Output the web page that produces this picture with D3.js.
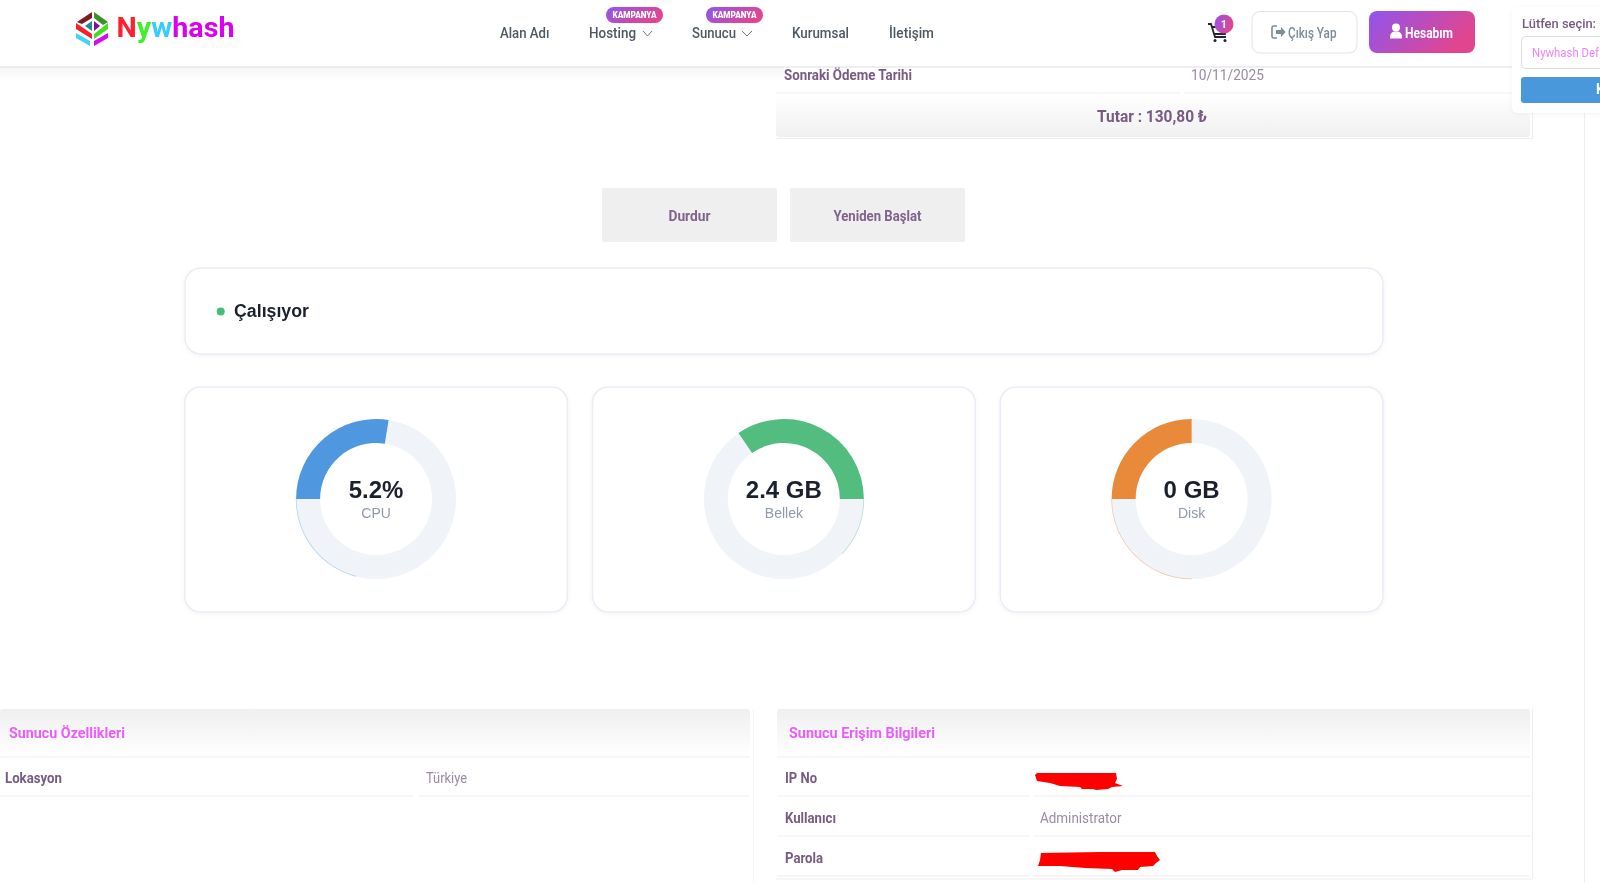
<!DOCTYPE html>
<html lang="tr">
<head>
<meta charset="utf-8">
<title>Nywhash</title>
<script src="https://cdnjs.cloudflare.com/ajax/libs/d3/7.9.0/d3.min.js"></script>
<style>
  html, body { margin: 0; padding: 0; background: #fff; overflow: hidden; }
  svg { display: block; filter: blur(0.35px); }
  text { font-family: Roboto, sans-serif; }
  .plain text, text.plain { font-family: "Liberation Sans", Arial, sans-serif; }
</style>
</head>
<body>
<div class="chartbox"><svg width="1600" height="883"></svg></div>
<script>
// gauge data, share and start are percent of the ring, clockwise from 12 o'clock
let gaugeNames = ["CPU", "Bellek", "Disk"];
let gaugeValues = ["5.2%", "2.4 GB", "0 GB"];
let gaugeStart = [75, 90.4, 75];
let gaugeShare = [27.5, 34.6, 25];
// thin coloured trace left on the grey part of the ring
let gaugeTraceFrom = [54, 25, 50];
let gaugeTraceTo = [75, 37, 75];

// page texts
let navLabels = ["Alan Adı", "Hosting", "Sunucu", "Kurumsal", "İletişim"];
let navX = [500, 589, 692, 792, 889];
let navW = [49.5, 47, 44, 57, 45];
let actionLabels = ["Durdur", "Yeniden Başlat"];
let actionW = [42, 88];
let accessRows = ["IP No", "Kullanıcı", "Parola"];
let accessW = [32, 51, 38];

let svg = d3.select("svg");
let defs = svg.append("defs");

const purple = "#775b83", muted = "#9a8aa3", pink = "#ea5cfc";

function gradient(id, stops, x2, y2) {
  let g = defs.append("linearGradient").attr("id", id)
    .attr("x1", 0).attr("y1", 0).attr("x2", x2).attr("y2", y2);
  stops.forEach((c, i) => g.append("stop").attr("offset", i / (stops.length - 1)).attr("stop-color", c));
}
gradient("brand", ["#8f55ee", "#e2458f"], 1, 0.4);
gradient("bandUp", ["#ffffff", "#f0f0f0"], 0, 1);
gradient("bandDown", ["#efefef", "#ffffff"], 0, 1);
gradient("headShadow", ["#f5f5f5", "#ffffff"], 0, 1);

let shadow = defs.append("filter").attr("id", "soft")
  .attr("x", "-10%").attr("y", "-10%").attr("width", "120%").attr("height", "120%");
shadow.append("feDropShadow").attr("dx", 0).attr("dy", 1).attr("stdDeviation", 2).attr("flood-opacity", 0.05);

// text squeezed to the measured width, the site font is a narrow one
function label(x, y, txt, w, size, color, weight) {
  let t = svg.append("text").attr("x", x).attr("y", y).text(txt)
    .attr("font-size", size).attr("fill", color).attr("font-weight", weight || 400);
  if (w) t.attr("textLength", w).attr("lengthAdjust", "spacingAndGlyphs");
  return t;
}
function box(x, y, w, h, fill, r, stroke) {
  return svg.append("rect").attr("x", x).attr("y", y).attr("width", w).attr("height", h)
    .attr("fill", fill).attr("rx", r || 0).attr("stroke", stroke || "none");
}
function hline(x1, x2, y, color) {
  svg.append("line").attr("x1", x1).attr("x2", x2).attr("y1", y).attr("y2", y)
    .attr("stroke", color || "#eeeeee").attr("stroke-width", 1.2);
}
function poly(points, fill) {
  svg.append("path").attr("d", d3.line()(points) + "Z").attr("fill", fill);
}

// top table, sits under the header
box(1584, 113, 1, 770, "#eeeeee");
hline(776, 1180, 93); hline(1184, 1530, 93);
box(776, 94, 754, 43, "url(#bandUp)", 3);
hline(776, 1533, 138.5);
svg.append("line").attr("x1", 1532.5).attr("x2", 1532.5).attr("y1", 67).attr("y2", 139).attr("stroke", "#eeeeee");
label(784, 80, "Sonraki Ödeme Tarihi", 128, 14, purple, 700);
label(1191, 80, "10/11/2025", 73, 14, muted);
label(1097, 122, "Tutar : 130,80 ₺", 110, 16, purple, 700);

// header
box(0, 67, 784, 14, "url(#headShadow)");
box(0, 0, 1600, 67, "#ffffff");
hline(0, 1600, 67, "#dddddd");

// logo
poly([[77, 22], [92, 12], [92, 18], [82, 24]], "#7d1a1f");
poly([[94, 12], [108, 22], [103, 25], [94, 18]], "#3f8f2c");
poly([[76, 23], [92, 34], [92, 39], [76, 29]], "#f3202c");
poly([[108, 23], [108, 29], [94, 39], [94, 34]], "#44e01e");
poly([[76, 33], [90, 41], [90, 46], [76, 38]], "#43d2ff");
poly([[108, 33], [108, 38], [94, 46], [94, 41]], "#d60aef");
poly([[85, 26], [92, 21], [92, 31]], "#1f8b93");
poly([[94, 21], [100, 26], [94, 31]], "#7c1295");

let brand = label(116.5, 37, "", 0, 28, "#000", 700);
let brandParts = ["N", "y", "w", "hash"];
let brandColors = ["#ff1f2d", "#3cf02a", "#35ccff", "#dc00f0"];
brandParts.forEach((p, i) => brand.append("tspan").text(p).attr("fill", brandColors[i]));
brand.attr("textLength", 118).attr("lengthAdjust", "spacingAndGlyphs");

// nav
navLabels.forEach((n, i) => label(navX[i], 38, n, navW[i], 15, "#4d5862", 500));
[[643, 652], [742, 752]].forEach(c => {
  svg.append("path").attr("d", d3.line()([[c[0], 31], [(c[0] + c[1]) / 2, 36], [c[1], 31]]))
    .attr("fill", "none").attr("stroke", "#6a747c").attr("stroke-width", 1);
});
[606, 706].forEach(x => {
  box(x, 7, 57, 16, "url(#brand)", 8);
  label(x + 6.5, 18, "KAMPANYA", 44, 8.5, "#ffffff", 900);
});

// cart
svg.append("path").attr("d", "M1208 24h3l4 13h11M1212 27h15l-2 7h-11")
  .attr("fill", "none").attr("stroke", "#20272d").attr("stroke-width", 1.8);
svg.append("circle").attr("cx", 1215).attr("cy", 40.5).attr("r", 1.5).attr("fill", "#20272d");
svg.append("circle").attr("cx", 1225).attr("cy", 40.5).attr("r", 1.5).attr("fill", "#20272d");
svg.append("circle").attr("cx", 1224).attr("cy", 24).attr("r", 9.5).attr("fill", "url(#brand)");
label(1224, 28, "1", 0, 11, "#ffffff", 700).attr("text-anchor", "middle");

// header buttons
box(1252, 11.5, 105, 41.5, "#ffffff", 8, "#e2e2e2");
svg.append("path").attr("d", "M1277 26h-3a2 2 0 0 0-2 2v8a2 2 0 0 0 2 2h3")
  .attr("fill", "none").attr("stroke", "#7b8c99").attr("stroke-width", 1.6);
poly([[1276, 30], [1281, 30], [1281, 27], [1285.5, 32], [1281, 37], [1281, 34], [1276, 34]], "#7b8c99");
label(1288, 37.5, "Çıkış Yap", 48.5, 15, "#7b8c99", 500);
box(1369, 11, 106, 42, "url(#brand)", 8);
svg.append("circle").attr("cx", 1396).attr("cy", 27.5).attr("r", 4).attr("fill", "#fff");
svg.append("path").attr("d", "M1390 38.5v-2a5 5 0 0 1 5-5h2a5 5 0 0 1 5 5v2z").attr("fill", "#fff");
label(1405, 37.5, "Hesabım", 48, 15, "#ffffff", 700);

// account popup, runs off the right edge
box(1512, 7, 100, 106, "#ffffff", 6).attr("filter", "url(#soft)");
label(1522, 28, "Lütfen seçin:", 74, 13, purple, 500);
box(1521.5, 36.5, 90, 32, "#ffffff", 4, "#dddddd");
label(1532, 57, "Nywhash Def", 67, 12.5, "#ee85fb");
box(1521, 77, 90, 26, "#4a98dc", 3);
label(1596, 94, "K", 0, 14, "#ffffff", 700);

// action buttons
let actionX = d3.scaleBand().domain(actionLabels).range([602, 965]).paddingInner(13 / 188);
actionLabels.forEach((a, i) => {
  box(actionX(a), 188, actionX.bandwidth(), 54, "#efefef", 2);
  label(actionX(a) + actionX.bandwidth() / 2 - actionW[i] / 2, 220.5, a, actionW[i], 14, "#80638c", 700);
});

// status card
box(185, 268, 1198, 86, "#ffffff", 16, "#e9eef5").attr("stroke-width", 1.6).attr("filter", "url(#soft)");
svg.append("circle").attr("cx", 220.7).attr("cy", 311.5).attr("r", 4).attr("fill", "#48bb78");
label(234, 317, "Çalışıyor", 75, 18, "#1a202c", 700).attr("class", "plain");

// gauge cards
let cardX = d3.scaleBand().domain(gaugeNames).range([184.7, 1383]).paddingInner(25 / 407.5);
let color = d3.scaleOrdinal(gaugeNames, ["#4f98e0", "#52bd7e", "#e98a3a"]);
let turn = d3.scaleLinear().domain([0, 100]).range([0, 2 * Math.PI]);
let ring = d3.arc().innerRadius(56).outerRadius(80);
let trace = d3.arc().innerRadius(79.6).outerRadius(80.3);

let cards = svg.selectAll("g.card").data(gaugeNames).join("g")
  .attr("class", "card plain")
  .attr("transform", d => `translate(${cardX(d)},387)`);

cards.append("rect")
  .attr("width", cardX.bandwidth()).attr("height", 225).attr("rx", 16)
  .attr("fill", "#fff").attr("stroke", "#e9eef5").attr("stroke-width", 1.6)
  .attr("filter", "url(#soft)");

let gauges = cards.append("g").attr("transform", `translate(${cardX.bandwidth() / 2},112)`);

gauges.append("path")
  .attr("fill", "#f0f4f9")
  .attr("d", ring({ startAngle: 0, endAngle: turn(100) }));

gauges.append("path")
  .attr("fill", d => color(d)).attr("opacity", 0.45)
  .attr("d", (d, i) => trace({ startAngle: turn(gaugeTraceFrom[i]), endAngle: turn(gaugeTraceTo[i]) }));

gauges.append("path")
  .attr("fill", d => color(d))
  .attr("d", (d, i) => ring({ startAngle: turn(gaugeStart[i]), endAngle: turn(gaugeStart[i] + gaugeShare[i]) }));

gauges.append("text")
  .attr("y", -1).attr("text-anchor", "middle")
  .attr("font-size", 24).attr("font-weight", 700).attr("fill", "#1a202c")
  .text((d, i) => gaugeValues[i]);

gauges.append("text")
  .attr("y", 19).attr("text-anchor", "middle")
  .attr("font-size", 14).attr("fill", "#8e99ab")
  .text(d => d);

// bottom left panel
box(0, 709, 750, 47, "url(#bandDown)", 3);
hline(0, 750, 757);
svg.append("line").attr("x1", 753.5).attr("x2", 753.5).attr("y1", 709).attr("y2", 883).attr("stroke", "#f2f2f2");
label(9, 738, "Sunucu Özellikleri", 116, 15.5, pink, 700);
label(5, 783, "Lokasyon", 57, 14, purple, 700);
label(426, 783, "Türkiye", 41, 14, muted);
hline(0, 414, 796); hline(418, 750, 796);

// bottom right panel
box(777, 709, 753, 47, "url(#bandDown)", 3);
hline(777, 1530, 757);
label(789, 738, "Sunucu Erişim Bilgileri", 146, 15.5, pink, 700);
accessRows.forEach((r, i) => {
  label(785, 783 + i * 40, r, accessW[i], 14, purple, 700);
  hline(777, 1029, 796 + i * 40);
  hline(1033, 1530, 796 + i * 40);
});
label(1040, 823, "Administrator", 81.5, 14, muted);
hline(776, 1532, 879);
svg.append("line").attr("x1", 1532.5).attr("x2", 1532.5).attr("y1", 709).attr("y2", 879).attr("stroke", "#eeeeee");

// red scribbles over the ip and the password
poly([[1035, 775], [1037, 773], [1116, 773], [1117, 779], [1115, 783], [1123, 786], [1112, 787], [1108, 789], [1096, 790], [1093, 789], [1082, 789], [1080, 787], [1060, 786], [1050, 783], [1037, 781]], "#ff0000");
poly([[1041, 853], [1100, 852], [1155, 852], [1157, 856], [1160, 860], [1156, 863], [1153, 866], [1140, 867], [1138, 870], [1122, 870], [1115, 872], [1112, 869], [1085, 868], [1060, 866], [1038, 866], [1040, 860]], "#ff0000");
</script>
</body>
</html>
